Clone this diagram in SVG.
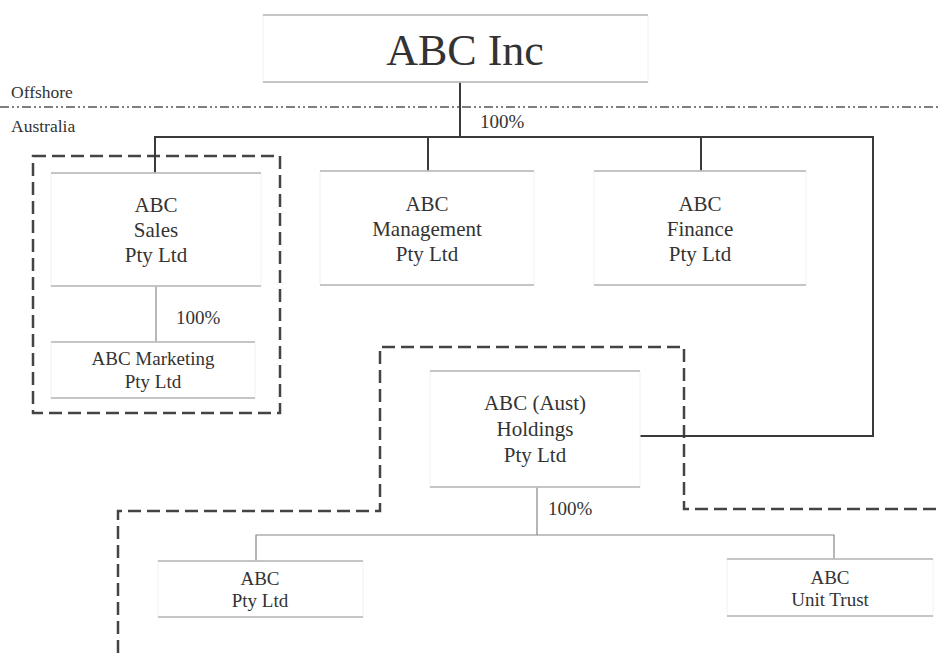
<svg xmlns="http://www.w3.org/2000/svg" width="941" height="653" viewBox="0 0 941 653">
<style>
.t{font-family:"Liberation Serif","Times New Roman",serif;fill:#333;text-anchor:middle}
.l{font-family:"Liberation Serif","Times New Roman",serif;fill:#333}
.box{fill:#fff;stroke:#f2f2f2;stroke-width:1}
.edge{stroke:#b4b4b4;stroke-width:1.5}
.main{stroke:#3a3a3a;stroke-width:2;fill:none}
.thin{stroke:#888;stroke-width:1.2;fill:none}
.dash{stroke:#444;stroke-width:2.5;fill:none;stroke-dasharray:13 6}
</style>
<rect width="941" height="653" fill="#fff"/>
<g id="regions">
<line x1="0" y1="107" x2="941" y2="107" stroke="#555" stroke-width="1.5" stroke-dasharray="9 3 2 3 2 3"/>
<text class="l" x="11" y="98" font-size="17.5">Offshore</text>
<text class="l" x="11" y="132" font-size="17.5">Australia</text>
<path class="dash" d="M33,156 H280 V413 H33 Z"/>
<path class="dash" d="M118,653 V511 H380 V347 H684 V509 H941"/>
</g>
<g id="connectors">
<path class="main" d="M460,82 V137"/>
<path class="main" d="M155,173 V137 H873 V436 H640"/>
<path class="main" d="M428,137 V171"/>
<path class="main" d="M701,137 V171"/>
<path class="thin" d="M156,286 V342"/>
<path class="thin" d="M537,487 V535"/>
<path class="thin" d="M256,561 V535 H834 V559"/>
<text class="l" x="480" y="128" font-size="19">100%</text>
<text class="l" x="176" y="324" font-size="19">100%</text>
<text class="l" x="548" y="515" font-size="19">100%</text>
</g>
<g id="abc-inc">
<rect class="box" x="263" y="15" width="385" height="67"/>
<line class="edge" x1="263" y1="15" x2="648" y2="15"/>
<line class="edge" x1="263" y1="82" x2="648" y2="82"/>
<text class="t" x="465" y="65" font-size="44">ABC Inc</text>
</g>
<g id="abc-sales">
<rect class="box" x="51" y="173" width="210" height="113"/>
<line class="edge" x1="51" y1="173" x2="261" y2="173"/>
<line class="edge" x1="51" y1="286" x2="261" y2="286"/>
<text class="t" x="156" y="212" font-size="21">ABC</text>
<text class="t" x="156" y="237" font-size="21">Sales</text>
<text class="t" x="156" y="262" font-size="21">Pty Ltd</text>
</g>
<g id="abc-marketing">
<rect class="box" x="51" y="342" width="204" height="56"/>
<line class="edge" x1="51" y1="342" x2="255" y2="342"/>
<line class="edge" x1="51" y1="398" x2="255" y2="398"/>
<text class="t" x="153" y="365" font-size="19">ABC Marketing</text>
<text class="t" x="153" y="388" font-size="19">Pty Ltd</text>
</g>
<g id="abc-management">
<rect class="box" x="320" y="171" width="214" height="114"/>
<line class="edge" x1="320" y1="171" x2="534" y2="171"/>
<line class="edge" x1="320" y1="285" x2="534" y2="285"/>
<text class="t" x="427" y="211" font-size="21">ABC</text>
<text class="t" x="427" y="236" font-size="21">Management</text>
<text class="t" x="427" y="261" font-size="21">Pty Ltd</text>
</g>
<g id="abc-finance">
<rect class="box" x="594" y="171" width="212" height="114"/>
<line class="edge" x1="594" y1="171" x2="806" y2="171"/>
<line class="edge" x1="594" y1="285" x2="806" y2="285"/>
<text class="t" x="700" y="211" font-size="21">ABC</text>
<text class="t" x="700" y="236" font-size="21">Finance</text>
<text class="t" x="700" y="261" font-size="21">Pty Ltd</text>
</g>
<g id="abc-holdings">
<rect class="box" x="430" y="371" width="210" height="116"/>
<line class="edge" x1="430" y1="371" x2="640" y2="371"/>
<line class="edge" x1="430" y1="487" x2="640" y2="487"/>
<text class="t" x="535" y="410" font-size="21">ABC (Aust)</text>
<text class="t" x="535" y="436" font-size="21">Holdings</text>
<text class="t" x="535" y="462" font-size="21">Pty Ltd</text>
</g>
<g id="abc-pty">
<rect class="box" x="158" y="561" width="205" height="56"/>
<line class="edge" x1="158" y1="561" x2="363" y2="561"/>
<line class="edge" x1="158" y1="617" x2="363" y2="617"/>
<text class="t" x="260" y="585" font-size="19">ABC</text>
<text class="t" x="260" y="607" font-size="19">Pty Ltd</text>
</g>
<g id="abc-unit-trust">
<rect class="box" x="727" y="559" width="206" height="57"/>
<line class="edge" x1="727" y1="559" x2="933" y2="559"/>
<line class="edge" x1="727" y1="616" x2="933" y2="616"/>
<text class="t" x="830" y="584" font-size="19">ABC</text>
<text class="t" x="830" y="606" font-size="19">Unit Trust</text>
</g>
</svg>
